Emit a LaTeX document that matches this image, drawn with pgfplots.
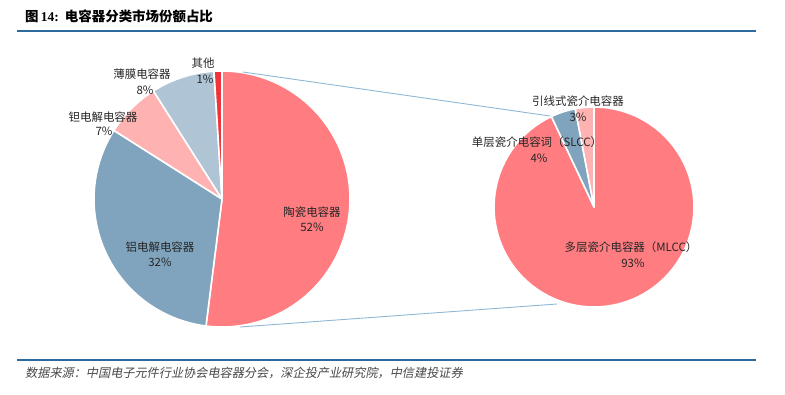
\documentclass[border=0pt]{standalone}
\usepackage{pgfplots}
\pgfplotsset{compat=1.18}
\usepackage{fontspec}
\setmainfont{Noto Sans CJK SC}
\newfontfamily\cjkslant{Noto Sans CJK SC}[FakeSlant=0.2]
\newfontfamily\serifb{Liberation Serif}
\definecolor{salmon}{HTML}{FF7C80}
\definecolor{steel}{HTML}{80A4BE}
\definecolor{lpink}{HTML}{FFB2B2}
\definecolor{lblue}{HTML}{AFC4D4}
\definecolor{ored}{HTML}{F0343C}
\definecolor{conn}{HTML}{8DB7D4}
\definecolor{rule}{HTML}{2C699C}
\definecolor{txt}{HTML}{262626}
% slice: cx, cy, r, start%, end%, colour
\newcommand{\pieslice}[6]{%
  \addplot[fill=#6, draw=white, line width=1.6pt, line join=round,
    domain={3.6*#4}:{3.6*#5}, samples=90, variable=\t]
    ({#1+#3*sin(\t)},{#2-#3*cos(\t)}) -- (axis cs:#1,#2) -- cycle;}
\begin{document}
\begin{tikzpicture}
\begin{axis}[
  width=785bp, height=395bp, scale only axis,
  xmin=0, xmax=785, ymin=0, ymax=395, y dir=reverse,
  hide axis, clip=false]
\addplot[draw=none] coordinates {(0,0) (785,395)};
% header / footer rules
\addplot[rule, line width=2pt] coordinates {(17,31) (756,31)};
\addplot[rule, line width=2pt] coordinates {(17,360) (756,360)};
% left pie: 52, 32, 7, 8, 1
\pieslice{222}{199}{128}{0}{52}{salmon}
\pieslice{222}{199}{128}{52}{84}{steel}
\pieslice{222}{199}{128}{84}{91}{lpink}
\pieslice{222}{199}{128}{91}{99}{lblue}
\pieslice{222}{199}{128}{99}{100}{ored}
% right pie: 93, 4, 3
\pieslice{594}{207}{100}{0}{93}{salmon}
\pieslice{594}{207}{100}{93}{97}{steel}
\pieslice{594}{207}{100}{97}{100}{lpink}
% connector lines
\addplot[conn, line width=0.9pt] coordinates {(243,72) (550,116)};
\addplot[conn, line width=0.9pt] coordinates {(240,327) (557,304)};
% title and source
\node[anchor=west, font=\fontsize{13.5}{15}\selectfont\bfseries, inner sep=0pt] at (axis cs:25,16) {图\,{\serifb\bfseries 14:}\ \ 电容器分类市场份额占比};
\node[anchor=west, font=\fontsize{12.2}{14}\cjkslant, text=txt!85, inner sep=0pt] at (axis cs:25,373) {数据来源：中国电子元件行业协会电容器分会，深企投产业研究院，中信建投证券};
% labels
\begin{scope}[every node/.style={font=\fontsize{11.5}{13}\selectfont, text=txt, inner sep=0pt}]
\node at (axis cs:312,212) {陶瓷电容器};
\node at (axis cs:312,227) {52\%};
\node at (axis cs:160,247) {铝电解电容器};
\node at (axis cs:160,262) {32\%};
\node at (axis cs:103,117) {钽电解电容器};
\node at (axis cs:104,131) {7\%};
\node at (axis cs:142,74) {薄膜电容器};
\node at (axis cs:145,90) {8\%};
\node at (axis cs:203,63) {其他};
\node at (axis cs:205,79) {1\%};
\node at (axis cs:578,101) {引线式瓷介电容器};
\node at (axis cs:578,117) {3\%};
\node at (axis cs:537,142) {单层瓷介电容词（SLCC）};
\node at (axis cs:539,158) {4\%};
\node at (axis cs:631,247) {多层瓷介电容器（MLCC）};
\node at (axis cs:633,263) {93\%};
\end{scope}
\end{axis}
\end{tikzpicture}
\end{document}
